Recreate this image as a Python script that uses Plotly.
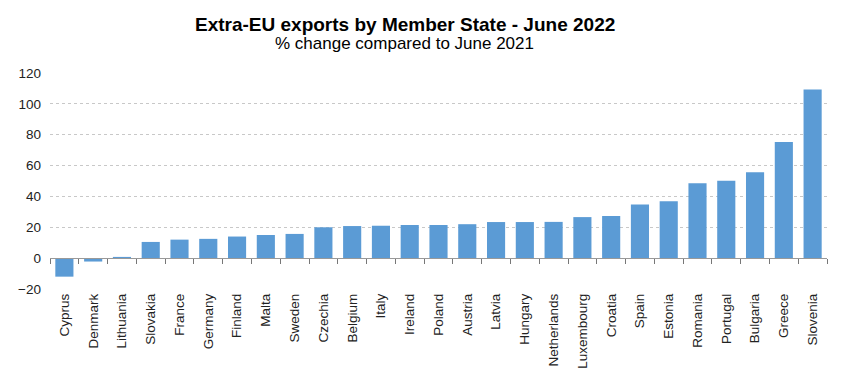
import plotly.graph_objects as go

countries = ["Cyprus", "Denmark", "Lithuania", "Slovakia", "France", "Germany", "Finland",
             "Malta", "Sweden", "Czechia", "Belgium", "Italy", "Ireland", "Poland", "Austria",
             "Latvia", "Hungary", "Netherlands", "Luxembourg", "Croatia", "Spain", "Estonia",
             "Romania", "Portugal", "Bulgaria", "Greece", "Slovenia"]
pct_change = [-12.0, -2.2, 0.8, 10.5, 12.0, 12.5, 14.0, 15.0, 15.7, 20.0, 20.8, 21.0, 21.5,
              21.5, 22.0, 23.4, 23.4, 23.5, 26.6, 27.3, 34.8, 36.8, 48.6, 50.1, 55.7, 75.3, 109.3]
y_ticks = [-20, 0, 20, 40, 60, 80, 100, 120]

title = "Extra-EU exports by Member State - June 2022"
subtitle = "% change compared to June 2021"

FONT = "Liberation Sans, Arial, sans-serif"
ymin, ymax = -20, 120

W, H = 847, 378
ML, MR, MT, MB = 50, 20, 73, 89
plot_w = W - ML - MR
plot_h = H - MT - MB

fig = go.Figure()
fig.add_trace(go.Bar(x=countries, y=pct_change, marker=dict(color="#5B9BD5", line=dict(width=0)),
                     xaxis="x", yaxis="y"))
fig.add_trace(go.Bar(x=countries, y=[None] * len(countries), xaxis="x2", yaxis="y",
                     showlegend=False, hoverinfo="skip"))

fig.update_layout(
    width=W, height=H,
    margin=dict(l=ML, r=MR, t=MT, b=MB, autoexpand=False),
    paper_bgcolor="white", plot_bgcolor="white",
    showlegend=False, bargap=0.37,
    font=dict(family=FONT, color="#222222"),
    xaxis=dict(type="category", tickangle=-90, tickfont=dict(size=13.5, family=FONT, color="#222"),
               showgrid=False, ticks="", showline=False, zeroline=False, automargin=False,
               ticklabelstandoff=1),
    xaxis2=dict(type="category", overlaying="x", anchor="free",
                position=(0 - ymin) / (ymax - ymin), side="bottom",
                showticklabels=False, ticks="outside", tickson="boundaries",
                ticklen=5, tickcolor="#777777", showline=True, linecolor="#999999",
                linewidth=1.2, showgrid=False, zeroline=False, matches="x", automargin=False),
    yaxis=dict(range=[ymin, ymax], tickvals=y_ticks, showgrid=True, gridcolor="#c8c8c8",
               griddash="dot", gridwidth=1, zeroline=False, showline=False, ticks="",
               tickfont=dict(size=13.5, family=FONT, color="#222"), ticklabelstandoff=8,
               automargin=False),
    annotations=[
        dict(text="<b>" + title + "</b>", xref="paper", xanchor="center",
             x=(405 - ML) / plot_w, y=1 + (MT - 24) / plot_h, yref="paper", yanchor="middle",
             showarrow=False, font=dict(size=19, family=FONT, color="black")),
        dict(text=subtitle, xref="paper", xanchor="center",
             x=(404 - ML) / plot_w, y=1 + (MT - 44) / plot_h, yref="paper", yanchor="middle",
             showarrow=False, font=dict(size=17, family=FONT, color="black")),
    ],
)

fig.write_html("out.html", config={"displayModeBar": False},
               post_script="document.body.style.margin='0';")
